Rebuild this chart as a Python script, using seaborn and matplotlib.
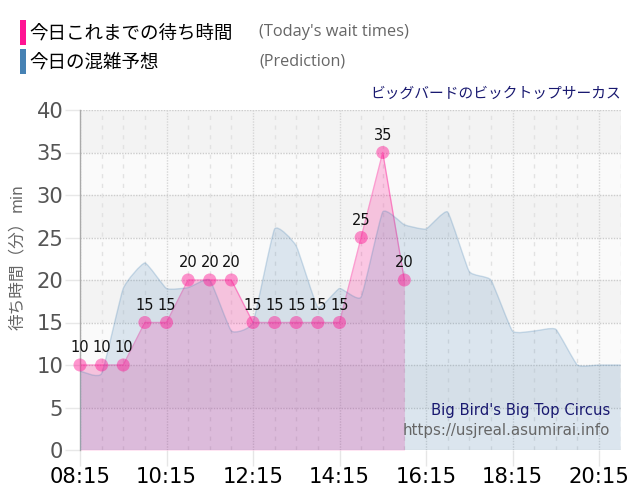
import matplotlib
matplotlib.use("Agg")
import matplotlib.pyplot as plt
import seaborn as sns
import pandas as pd
from matplotlib.path import Path
from matplotlib.patches import PathPatch, Rectangle

sns.set_theme(style="white")
plt.rcParams['font.family'] = ['DejaVu Sans', 'Noto Sans CJK JP']

wait_hours = [8.25 + 0.5 * i for i in range(16)]
wait_values = [10, 10, 10, 15, 15, 20, 20, 20, 15, 15, 15, 15, 15, 25, 35, 20]
pred_hours = [8.25 + 0.5 * i for i in range(26)]
pred_values = [9.3, 9, 19, 22, 19, 19.1, 20, 14, 15, 26, 24, 16.8, 19, 18, 28, 26.5,
               26, 28, 21, 20, 14, 14, 14.2, 10, 10, 10]
major_labels = ["08:15", "10:15", "12:15", "14:15", "16:15", "18:15", "20:15"]
major_hours = [8.25, 10.25, 12.25, 14.25, 16.25, 18.25, 20.25]
y_ticks = [0, 5, 10, 15, 20, 25, 30, 35, 40]
title_ja = "ビッグバードのビックトップサーカス"
title_en = "Big Bird's Big Top Circus"
site = "https://usjreal.asumirai.info"

W, H = 640, 500
X0, X1, Y0, Y1 = 80, 621, 110, 450
xmax = 8.25 + (X1 - X0) / 43.25

def fx(p): return p / W
def fy(p): return 1 - p / H

def spline_path(xs, ys, t=0.07):
    """Gently rounded Bezier through the data points."""
    n = len(xs)
    verts = [(xs[0], ys[0])]
    codes = [Path.MOVETO]
    for i in range(n - 1):
        a = max(i - 1, 0)
        b = min(i + 2, n - 1)
        verts.append((xs[i] + t * (xs[i + 1] - xs[a]), ys[i] + t * (ys[i + 1] - ys[a])))
        verts.append((xs[i + 1] - t * (xs[b] - xs[i]), ys[i + 1] - t * (ys[b] - ys[i])))
        verts.append((xs[i + 1], ys[i + 1]))
        codes += [Path.CURVE4] * 3
    return verts, codes

fig = plt.figure(figsize=(6.4, 5.0), dpi=100, facecolor="white")
ax = fig.add_axes([fx(X0), fy(Y1), (X1 - X0) / W, (Y1 - Y0) / H])
ax.set_xlim(8.25, xmax)
ax.set_ylim(0, 40)
ax.set_facecolor("white")

for i, low in enumerate(y_ticks[:-1]):
    ax.axhspan(low, low + 5, color="#f3f3f3" if i % 2 else "#fafafa", lw=0, zorder=0)
for v in y_ticks[1:]:
    ax.axhline(v, color="#cccccc", lw=1, ls=(0, (1, 1)), zorder=1)
ax.axhline(0, color="#e6e6e6", lw=1, zorder=1)
h = 8.25
while h < xmax:
    if (h - 8.25) % 2 == 0:
        ax.axvline(h, color="#d6d6d6", lw=1, ls=(0, (1, 1)), zorder=1)
    else:
        ax.axvline(h, color="#e2e2e2", lw=1, ls=(0, (3, 4)), zorder=1)
    h += 0.5

# today's wait area
df = pd.DataFrame({"h": wait_hours, "w": wait_values})
ax.fill_between(df["h"], 0, df["w"], color="#ff1493", alpha=0.22, lw=0, zorder=2)
sns.lineplot(data=df, x="h", y="w", ax=ax, color="#ff1493", alpha=0.4, lw=1, zorder=2.1)

# prediction area
v, c = spline_path(pred_hours, pred_values)
ax.add_patch(PathPatch(Path(v + [(pred_hours[-1], 0), (pred_hours[0], 0), v[0]],
                            c + [Path.LINETO, Path.LINETO, Path.LINETO]),
                       fc="#4682b4", alpha=0.17, lw=0, zorder=3))
ax.add_patch(PathPatch(Path(v, c), fc="none", ec="#4682b4", alpha=0.25, lw=1, zorder=3.1))

sns.scatterplot(data=df, x="h", y="w", ax=ax, color="#ff1493", alpha=0.45, s=88,
                edgecolor="none", zorder=4, clip_on=False)
for a, b in zip(wait_hours, wait_values):
    ax.annotate(str(b), (a, b), xytext=(0, 12.3), textcoords="offset points", ha="center",
                va="center", fontsize=10.5, color="#111111", zorder=5, annotation_clip=False)

ax.set_xlabel("")
ax.set_ylabel("")
ax.set_xticks(major_hours, major_labels, fontsize=15.2, color="black")
ax.set_yticks(y_ticks, [str(t) for t in y_ticks], fontsize=15.2, color="#555555")
ax.tick_params(axis="x", length=11.5, width=1, color="#e6e6e6", pad=0.5, bottom=True)
ax.tick_params(axis="y", length=11, width=1, color="#e8e8e8", pad=1, left=True)
for s in ["top", "right", "bottom"]:
    ax.spines[s].set_visible(False)
ax.spines["left"].set_color("#aaaaaa")
ax.spines["left"].set_linewidth(1)

jp = ['Noto Sans CJK JP']
fig.text(fx(17), fy(271.5), "待ち時間（分）", rotation=90, ha="center", va="center",
         fontsize=12, color="#666666", family=jp)
fig.text(fx(17), fy(197.5), "min", rotation=90, ha="center", va="center", fontsize=11, color="#666666")

fig.add_artist(Rectangle((fx(20), fy(45)), 6 / W, 25 / H, transform=fig.transFigure, color="#ff1493", lw=0))
fig.add_artist(Rectangle((fx(20), fy(74)), 6 / W, 25 / H, transform=fig.transFigure, color="#4682b4", lw=0))
fig.text(fx(29), fy(33.5), "今日これまでの待ち時間", fontsize=13.3, color="black", va="center", family=jp)
fig.text(fx(29), fy(63), "今日の混雑予想", fontsize=13.3, color="black", va="center", family=jp)
fig.text(fx(259), fy(31.5), "(Today's wait times)", fontsize=11.8, color="#666666", va="center", family=['Open Sans'])
fig.text(fx(259), fy(61.5), "(Prediction)", fontsize=11.6, color="#666666", va="center", family=['Open Sans'])
fig.text(fx(621), fy(93.5), title_ja, fontsize=10.6, color="#191970", ha="right", va="center", family=jp)
fig.text(fx(610), fy(411), title_en, fontsize=10.7, color="#191970", ha="right", va="center", zorder=6)
fig.text(fx(610), fy(431), site, fontsize=10.8, color="#666666", ha="right", va="center", zorder=6)

fig.savefig("out.png", dpi=100)
